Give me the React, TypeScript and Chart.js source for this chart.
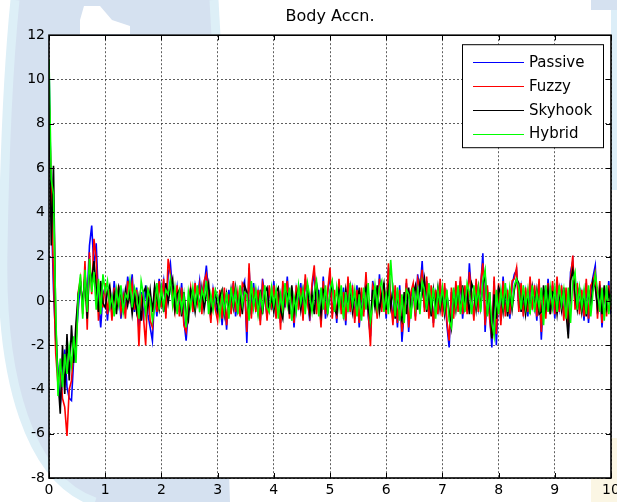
import { useEffect, useRef } from "react";
import { Chart, registerables } from "chart.js";

Chart.register(...registerables);

const TITLE = "Body Accn.";
const SERIES_NAMES = ["Passive", "Fuzzy", "Skyhook", "Hybrid"];
const SERIES_COLORS = ["#0000ff", "#ff0000", "#000000", "#00ff00"];
const DT = 0.04; // sampling step of the time axis (s)
const X_TICKS = [0, 1, 2, 3, 4, 5, 6, 7, 8, 9, 10];
const Y_TICKS = [-8, -6, -4, -2, 0, 2, 4, 6, 8, 10, 12];

const PASSIVE = [
  10.8, 4.2, 0.5, -1.8, -3.2, -4.7, -3.6, -2.2, -3.9, -4.4, -4.5, -2.6, -1.8, -0.4, 0.9, -0.3, 1.2, 0.2, 2.5, 3.4, 1.5, 2.6, 0.1, -1.2, 0.3,
  0.6, -0.9, 0.4, -0.6, 0.9, -0.2, 0.5, -0.8, 0.3, -0.4, 1.1, 0.2, 1.2, -0.5, 0.6, -1.3, 0.4, -0.9, 0.7, -0.6, -1.2, -1.8, 0.3, -0.7, 1.0,
  0.2, 0.9, -0.6, 1.2, 1.7, 0.4, -0.3, 0.6, -0.5, 0.8, -0.9, -1.8, -0.4, 0.5, -0.3, 0.7, 0.1, 0.9, -0.4, 0.6, 1.6, 0.3, -0.8, 0.5, -0.2,
  -0.6, 0.4, -1.1, 0.3, -1.3, 0.5, -0.4, 0.8, -0.7, 0.2, -0.5, 0.6, 0.9, -1.9, 1.5, -0.6, 0.8, -0.3, 0.4, -0.9, 1.0, 0.2, -0.7, 0.6, -0.4,
  0.9, -0.5, 0.3, -1.0, 0.7, -0.3, 1.1, -0.6, 0.4, -1.2, 0.5, -0.2, 0.8, -0.7, 1.0, 0.1, -0.9, 0.6, 1.3, -0.4, 0.5, -1.0, 1.1, -0.8, 0.4,
  1.2, -0.6, 0.3, -1.0, 0.8, -0.4, 0.6, -1.1, 0.9, -0.3, 0.5, -0.8, 0.7, -1.2, 0.4, -0.5, 1.0, -0.7, -1.6, 0.9, 0.2, -0.6, 1.2, -0.3, 0.6,
  -0.8, 1.5, 0.3, -0.9, 0.5, -1.2, 0.7, -1.85, -0.5, 0.8, -1.4, 0.2, 0.6, -0.7, 1.2, 0.4, 1.8, -0.3, 0.9, -0.6, 0.5, -1.0, 0.3, -0.4, 0.8,
  -0.5, 0.6, -1.1, -2.1, 0.4, -0.6, 0.7, -0.3, 0.9, -0.8, 0.5, -0.4, 1.7, 0.2, -0.7, 0.8, -0.3, 0.6, 2.15, -1.4, 0.5, -0.6, -2.1, 0.9, -2.0,
  0.6, -0.9, 1.1, -0.5, 0.3, -0.8, 0.7, 1.2, 1.4, -0.3, 0.6, -0.5, 0.4, -0.7, 0.9, -0.2, 0.5, -0.9, 0.8, -1.75, 0.3, -0.6, 1.0, -0.4, 0.7,
  -0.8, 0.9, -0.3, 0.5, -0.7, 0.4, -1.5, 1.3, 1.8, -0.2, 0.6, -0.4, 0.3, -0.9, 0.8, -1.0, 0.5, 1.1, 1.6, -0.6, 0.7, -1.2, 0.4, -0.5, 0.9,
  -0.6,
];

const FUZZY = [
  9.4, 5.0, 1.2, -2.4, -3.8, -2.9, -4.4, -4.8, -6.1, -4.0, -3.6, -2.2, -2.0, 0.4, 1.0, -0.6, 1.8, -1.3, 2.2, 0.3, 2.8, 1.9, -0.9, 0.8, -0.3,
  0.8, -0.6, 0.5, -0.9, 0.6, -0.4, 0.7, -0.5, 0.2, -0.8, 0.9, 0.1, 0.8, -0.4, 0.5, -2.05, 0.3, -0.7, -2.0, 0.6, -0.9, -1.2, 0.6, -0.5, 0.9,
  -0.3, 1.0, -0.8, 1.9, 1.2, 0.2, -0.5, 0.7, -0.7, 0.6, -1.1, -1.4, -0.2, 0.6, -0.5, 0.8, -0.1, 0.7, -0.6, 0.9, 1.2, 0.1, -1.0, 0.6, -0.4,
  -0.9, 0.5, -0.8, 0.6, -1.1, 0.3, -0.6, 0.9, -0.5, 0.4, -0.7, 0.8, 0.6, -1.4, 1.7, -0.8, 0.6, -0.5, 0.5, -1.1, 0.8, 0.4, -0.9, 0.7, -0.2,
  0.7, -0.8, 0.5, -1.3, 0.9, -0.1, 0.9, -0.8, 0.6, -1.0, 0.7, -0.4, 0.6, -0.9, 1.2, -0.1, -0.7, 0.8, 1.6, -0.6, 0.3, -1.2, 0.9, -0.6, 0.5,
  1.5, -0.8, 0.5, -0.8, 1.0, -0.6, 0.4, -0.9, 1.1, -0.5, 0.7, -1.0, 0.5, -1.0, 0.6, -0.7, 1.3, -0.5, -2.05, 0.7, 0.4, -0.8, 1.0, -0.5, 0.8,
  -0.6, 1.7, 0.1, -1.1, 0.7, -1.0, 0.5, -1.4, -0.7, 1.0, -1.2, 0.4, 0.8, -0.9, 1.0, 0.6, 1.4, -0.5, 1.1, -0.8, 0.7, -1.2, 0.5, -0.6, 1.0,
  -0.7, 0.8, -0.9, -1.8, 0.6, -0.8, 0.9, -0.5, 1.1, -0.6, 0.7, -0.6, 1.3, 0.4, -0.9, 1.0, -0.5, 0.8, 1.7, -1.1, 0.7, -0.8, -1.7, 1.1, -1.5,
  0.8, -1.1, 0.9, -0.7, 0.5, -0.6, 0.9, 1.0, 1.5, -0.5, 0.8, -0.7, 0.6, -0.5, 1.1, -0.4, 0.7, -0.7, 1.0, -1.4, 0.5, -0.8, 0.8, -0.6, 0.9,
  -0.6, 1.1, -0.5, 0.7, -0.9, 0.6, -1.2, 1.0, 2.05, -0.4, 0.8, -0.6, 0.5, -0.7, 1.0, -0.8, 0.7, 0.9, 1.3, -0.8, 0.9, -1.0, 0.6, -0.7, 0.7,
  -0.4,
];

const SKYHOOK = [
  9.6, 2.5, 6.1, -1.0, -3.5, -5.1, -2.0, -4.2, -1.5, -3.6, -1.1, -2.8, -1.0, 0.3, 0.8, -0.2, 1.1, -0.8, 1.5, 0.9, 1.8, 0.6, -0.5, 0.9, -0.1,
  -0.3, 0.4, 0.7, -0.2, 0.3, -0.6, 0.6, 0.2, -0.4, 0.5, -0.2, 0.4, -0.6, 0.3, -0.5, 0.2, -0.9, 0.4, 0.6, -0.3, 0.5, -0.5, 0.7, 0.1, -0.4,
  0.4, -0.5, 0.8, -0.1, 0.6, 1.0, -0.4, 0.3, 0.5, -0.7, 0.4, -0.6, -0.9, 0.5, 0.2, -0.5, 0.4, -0.3, 0.6, -0.4, 0.3, 0.8, -0.5, -0.2, 0.4,
  -0.4, 0.2, 0.5, -0.6, 0.3, -0.5, 0.5, -0.3, 0.6, -0.4, 0.3, -0.6, 0.7, 0.4, -0.8, 0.6, -0.2, 0.4, -0.5, 0.5, -0.6, 0.4, 0.6, -0.4, 0.2,
  -0.5, 0.4, 0.6, -0.4, -0.8, 0.5, 0.3, -0.6, 0.7, -0.5, 0.2, 0.6, -0.4, 0.5, -0.3, 0.7, -0.5, 0.3, -0.6, 0.8, 0.2, -0.6, 0.5, 0.3, -0.5,
  0.3, 0.8, -0.4, -0.6, 0.5, 0.2, -0.6, 0.5, -0.3, 0.6, -0.5, 0.3, -0.4, 0.6, -0.7, 0.3, 0.6, -0.4, -0.9, 0.5, -0.3, 0.7, -0.5, 0.3, 0.8,
  -0.4, 0.6, -0.3, 0.5, -0.8, 0.3, -0.6, -0.9, 0.4, -0.6, 0.6, -0.5, 0.3, 0.7, -0.4, 0.8, 0.3, 1.0, -0.5, 0.4, -0.7, 0.5, -0.3, 0.6, -0.4,
  0.4, -0.6, 0.3, -0.5, -1.2, 0.5, -0.4, 0.6, -0.5, 0.7, -0.3, 0.4, -0.6, 0.8, 0.5, -0.4, 0.6, -0.3, 0.7, 1.2, -0.6, 0.4, -1.7, 0.3, -0.8,
  0.6, 0.3, -0.5, 0.6, -0.7, 0.4, -0.4, 0.5, 1.0, 0.8, -0.5, 0.4, -0.6, 0.3, -0.4, 0.6, -0.3, 0.5, -0.6, -0.5, 0.7, -0.3, 0.5, -0.6, 0.4,
  0.3, -0.6, 0.5, -0.4, 0.6, -0.5, -1.7, 0.9, 1.4, 0.3, -0.4, 0.6, -0.5, 0.3, -0.7, 0.5, -0.4, 0.9, 0.6, -0.3, 0.5, -0.6, 0.7, -0.3, 0.4,
  -0.2,
];

const HYBRID = [
  10.9, 5.5, 4.8, -0.5, -4.3, -2.6, -3.9, -2.4, -3.3, -2.1, -2.9, -1.6, -2.8, 0.2, 1.2, -0.8, 1.4, -0.5, 1.9, 0.4, 1.3, -0.4, 1.0, -0.6, 1.2,
  0.4, 0.9, -0.3, 0.2, -0.7, 0.5, -0.2, 0.7, -0.5, 0.3, 0.1, 0.9, -0.3, 0.6, 0.2, -0.8, 0.9, 0.3, -0.6, 0.5, 0.1, -0.9, -0.3, 0.8, -0.4,
  0.6, -0.3, 0.5, 0.3, 1.0, -0.2, 0.6, -0.6, 0.4, -0.4, 0.3, -1.2, 0.4, -0.3, 0.6, -0.2, 0.7, -0.5, 0.5, 0.1, 0.9, -0.6, 0.3, -0.4, 0.5,
  0.2, -0.7, 0.3, -0.5, 0.4, -0.8, 0.6, -0.2, 0.5, -0.6, 0.7, -0.2, 0.4, 0.3, -0.9, 0.9, -0.3, 0.5, -0.6, 0.3, -0.4, 0.7, -0.3, -0.5, 0.6,
  -0.2, 0.5, -0.8, 0.3, -0.4, 0.8, -0.2, 0.6, -0.9, 0.2, -0.5, 0.7, -0.1, 0.5, -0.6, 0.8, 0.2, -0.5, 0.4, 0.9, -0.7, 0.6, -0.4, 0.7, -0.6,
  0.5, 0.9, -0.5, 0.6, -0.3, 0.7, -0.8, 0.4, -0.5, 0.8, -0.2, 0.5, -0.7, 0.3, -0.9, 0.6, -0.4, 0.8, -0.9, -0.2, 0.7, -0.3, 0.6, 0.9, -0.5,
  0.3, -0.6, 1.85, 0.4, -0.7, 0.6, -0.9, 0.3, -1.0, 0.5, 0.3, -0.8, 0.6, -0.3, 0.5, -0.6, 0.9, 0.5, -0.4, 0.8, -0.3, 0.6, -0.8, 0.5, -0.2,
  0.6, -0.4, 0.5, -0.9, -1.2, 0.6, -0.3, 0.7, -0.6, 0.4, -0.5, 0.8, 0.4, -0.6, 0.7, -0.2, 0.6, -0.5, 0.9, 1.4, -0.7, 0.4, -1.0, -1.6, 0.5,
  -0.6, 0.5, -0.3, 0.8, -0.5, 0.6, -0.2, 0.7, 1.0, 0.6, -0.4, 0.7, -0.3, 0.5, -0.6, 0.7, -0.5, 0.4, -0.3, 0.6, -1.1, 0.7, -0.5, 0.6, -0.3,
  0.6, -0.5, 0.7, -0.2, 0.5, -0.8, 0.6, -1.0, 0.9, 1.3, -0.4, 0.6, -0.3, 0.5, -0.6, 0.7, -0.7, 0.4, 1.2, 0.5, -0.5, 0.6, -0.9, 0.7, -0.6,
  0.3,
];

const FONT = "'DejaVu Sans', 'Liberation Sans', sans-serif";

export default function App() {
  const ref = useRef<HTMLCanvasElement | null>(null);

  useEffect(() => {
    if (!ref.current) return;
    const series = [PASSIVE, FUZZY, SKYHOOK, HYBRID];
    const datasets = series.map((vals, k) => ({
      label: SERIES_NAMES[k],
      data: vals.map((y, i) => ({ x: Math.round(i * DT * 100) / 100, y })),
      borderColor: SERIES_COLORS[k],
      backgroundColor: SERIES_COLORS[k],
      borderWidth: 1.6,
      pointRadius: 0,
      tension: 0,
      fill: false,
      order: series.length - 1 - k,
    }));

    const watermark = {
      id: "watermark",
      beforeDraw(chart: any) {
        const { ctx, width, height, chartArea } = chart;
        ctx.save();
        ctx.fillStyle = "#ffffff";
        ctx.fillRect(0, 0, width, height);
        // faint background logo-like shape
        ctx.fillStyle = "#d5e1f0";
        ctx.beginPath();
        ctx.moveTo(15, 0);
        ctx.lineTo(214, 0);
        ctx.lineTo(230, height);
        ctx.lineTo(95, height);
        ctx.bezierCurveTo(30, 480, 0, 380, 3, 250);
        ctx.bezierCurveTo(5, 120, 10, 50, 15, 0);
        ctx.closePath();
        ctx.fill();
        ctx.strokeStyle = "#ddeff7";
        ctx.lineWidth = 9;
        ctx.beginPath();
        ctx.moveTo(95, height);
        ctx.bezierCurveTo(30, 480, 0, 380, 3, 250);
        ctx.bezierCurveTo(5, 120, 10, 50, 15, 0);
        ctx.stroke();
        ctx.beginPath();
        ctx.moveTo(214, 0);
        ctx.lineTo(216, 36);
        ctx.stroke();
        // white notch in the top band
        ctx.fillStyle = "#ffffff";
        ctx.beginPath();
        ctx.moveTo(84, 6);
        ctx.lineTo(100, 6);
        ctx.lineTo(112, 20);
        ctx.lineTo(130, 26);
        ctx.lineTo(130, 34);
        ctx.lineTo(80, 34);
        ctx.lineTo(80, 20);
        ctx.closePath();
        ctx.fill();
        ctx.fillStyle = "#dceef8";
        ctx.fillRect(chartArea.right, 0, width - chartArea.right, 190);
        ctx.fillStyle = "#d5e1f0";
        ctx.fillRect(chartArea.right - 20, 0, width, 10);
        ctx.fillStyle = "#fbf6e4";
        ctx.fillRect(chartArea.right - 20, chartArea.bottom - 40, width, height);
        ctx.fillStyle = "#ffffff";
        ctx.fillRect(chartArea.left, chartArea.top, chartArea.right - chartArea.left, chartArea.bottom - chartArea.top);
        ctx.restore();
      },
    };

    const frame = {
      id: "frame",
      afterDraw(chart: any) {
        const { ctx, chartArea } = chart;
        const xs = chart.scales.x;
        const ys = chart.scales.y;
        const { left, right, top, bottom } = chartArea;
        ctx.save();
        ctx.strokeStyle = "#000";
        ctx.lineWidth = 1;
        ctx.beginPath();
        X_TICKS.forEach((v) => {
          const px = Math.round(xs.getPixelForValue(v)) + 0.5;
          ctx.moveTo(px, bottom);
          ctx.lineTo(px, bottom - 5);
          ctx.moveTo(px, top);
          ctx.lineTo(px, top + 5);
        });
        Y_TICKS.forEach((v) => {
          const py = Math.round(ys.getPixelForValue(v)) + 0.5;
          ctx.moveTo(left, py);
          ctx.lineTo(left + 5, py);
          ctx.moveTo(right, py);
          ctx.lineTo(right - 5, py);
        });
        ctx.stroke();
        ctx.lineWidth = 1.6;
        ctx.strokeRect(left, top, right - left, bottom - top);

        // legend box
        const lw = 141;
        const lh = 103;
        const lx = right - 8 - lw;
        const ly = top + 9;
        ctx.fillStyle = "#fff";
        ctx.fillRect(lx, ly, lw, lh);
        ctx.lineWidth = 1;
        ctx.strokeStyle = "#000";
        ctx.strokeRect(lx + 0.5, ly + 0.5, lw, lh);
        ctx.font = `15px ${FONT}`;
        ctx.textBaseline = "middle";
        ctx.textAlign = "left";
        chart.data.datasets.forEach((ds: any, i: number) => {
          const yy = ly + 18 + i * 23.8;
          ctx.strokeStyle = ds.borderColor;
          ctx.lineWidth = 1;
          ctx.beginPath();
          ctx.moveTo(lx + 11, Math.round(yy) + 0.5);
          ctx.lineTo(lx + 62, Math.round(yy) + 0.5);
          ctx.stroke();
          ctx.fillStyle = "#000";
          ctx.fillText(ds.label, lx + 67, yy + 1);
        });
        ctx.restore();
      },
    };

    const chart = new Chart(ref.current, {
      type: "line",
      data: { datasets },
      options: {
        responsive: false,
        maintainAspectRatio: false,
        animation: false,
        layout: { padding: { left: 0, right: 6, top: 0, bottom: 0 } },
        plugins: {
          legend: { display: false },
          tooltip: { enabled: false },
          title: {
            display: true,
            text: TITLE,
            fullSize: false,
            color: "#000",
            font: { family: FONT, size: 16, weight: "normal", lineHeight: 1.2 },
            padding: { top: 7, bottom: 9 },
          },
        },
        scales: {
          x: {
            type: "linear",
            min: 0,
            max: 10,
            afterBuildTicks: (s: any) => {
              s.ticks = X_TICKS.map((v) => ({ value: v }));
            },
            afterFit: (s: any) => {
              s.height = 24;
              s.paddingRight = 0;
              s.paddingLeft = 0;
            },
            ticks: {
              autoSkip: false,
              maxRotation: 0,
              padding: 4,
              color: "#000",
              font: { family: FONT, size: 14 },
            },
            grid: { color: "rgba(40,40,40,0.75)", lineWidth: 1, drawTicks: false },
            border: { display: false, dash: [2, 2] },
          },
          y: {
            type: "linear",
            min: -8,
            max: 12,
            afterBuildTicks: (s: any) => {
              s.ticks = Y_TICKS.map((v) => ({ value: v }));
            },
            afterFit: (s: any) => {
              s.width = 49;
              s.paddingTop = 0;
              s.paddingBottom = 0;
            },
            ticks: {
              autoSkip: false,
              padding: 4,
              color: "#000",
              font: { family: FONT, size: 14 },
            },
            grid: { color: "rgba(40,40,40,0.75)", lineWidth: 1, drawTicks: false },
            border: { display: false, dash: [2, 2] },
          },
        },
      },
      plugins: [watermark, frame],
    });
    return () => chart.destroy();
  }, []);

  return (
    <div style={{ position: "absolute", left: 0, top: 0, width: 617, height: 502 }}>
      <canvas ref={ref} width={617} height={502} style={{ display: "block" }} />
    </div>
  );
}
